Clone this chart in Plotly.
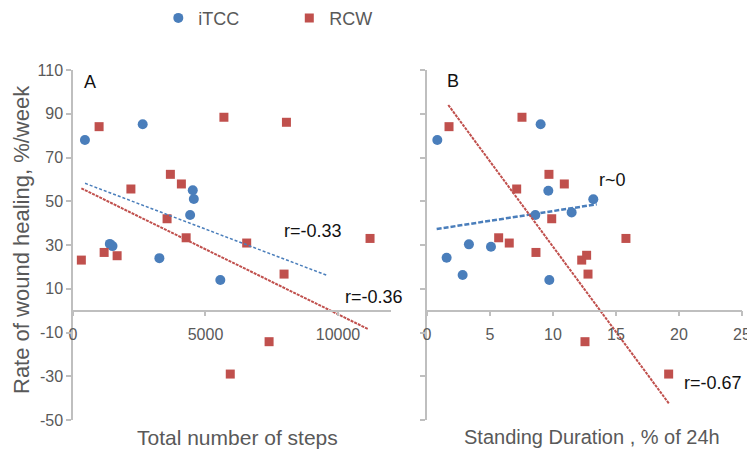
import plotly.graph_objects as go

# ---------------- data ----------------
# Panel A: Total number of steps vs rate of wound healing
a_itcc_steps = [450, 1390, 1490, 2630, 3260, 4420, 4520, 4560, 5560]
a_itcc_rate = [78.0, 30.5, 29.5, 85.2, 24.0, 43.7, 55.0, 51.0, 14.0]
a_rcw_steps = [315, 985, 1175, 1665, 2185, 3550, 3675, 4090, 4270, 5695,
               5935, 6555, 7400, 7965, 8055, 11210]
a_rcw_rate = [23.1, 84.1, 26.6, 25.1, 55.6, 42.0, 62.3, 57.9, 33.3, 88.4,
              -29.0, 30.9, -14.2, 16.7, 86.1, 33.0]

# Panel B: Standing duration (% of 24h) vs rate of wound healing
b_itcc_stand = [0.82, 1.56, 2.83, 3.33, 5.08, 8.6, 9.02, 9.63, 9.71, 11.48, 13.2]
b_itcc_rate = [78.0, 24.2, 16.3, 30.3, 29.2, 43.7, 85.2, 54.8, 14.0, 44.9, 50.9]
b_rcw_stand = [1.75, 5.69, 6.53, 7.12, 7.54, 8.65, 9.68, 9.9, 10.9, 12.28,
               12.54, 12.67, 12.78, 15.79, 19.18]
b_rcw_rate = [84.1, 33.3, 30.9, 55.6, 88.4, 26.6, 62.3, 42.0, 57.9, 23.1,
              -14.2, 25.3, 16.7, 33.0, -29.0]

# trend lines (end points)
trend_a_itcc_x = [455, 9570]
trend_a_itcc_y = [58.2, 16.2]
trend_a_rcw_x = [315, 11150]
trend_a_rcw_y = [55.9, -8.5]
trend_b_itcc_x = [0.77, 13.47]
trend_b_itcc_y = [37.3, 48.6]
trend_b_rcw_x = [1.69, 19.23]
trend_b_rcw_y = [94.0, -42.7]

series_names = ["iTCC", "RCW"]
y_ticks = [-50, -30, -10, 10, 30, 50, 70, 90, 110]
y_tick_labels = ["-50", "-30", "-10", "10", "30", "50", "70", "90", "110"]
xa_ticks = [0, 5000, 10000]
xa_tick_labels = ["0", "5000", "10000"]
xb_ticks = [0, 5, 10, 15, 20, 25]
xb_tick_labels = ["0", "5", "10", "15", "20", "25"]

y_title = "Rate of wound healing, %/week"
xa_title = "Total number of steps"
xb_title = "Standing Duration , % of 24h"
r_labels = ["r=-0.33", "r=-0.36", "r~0", "r=-0.67"]
panel_labels = ["A", "B"]

# ---------------- style ----------------
BLUE = "#4A7EBB"
RED = "#C0504D"
AXIS = "#BFBFBF"
TICKC = "#595959"
FONT = "Liberation Sans, Arial, sans-serif"

fig = go.Figure()

fig.add_trace(go.Scatter(x=a_itcc_steps, y=a_itcc_rate, mode="markers", name=series_names[0],
                         legendgroup="i", marker=dict(symbol="circle", size=10, color=BLUE),
                         xaxis="x", yaxis="y"))
fig.add_trace(go.Scatter(x=a_rcw_steps, y=a_rcw_rate, mode="markers", name=series_names[1],
                         legendgroup="r", marker=dict(symbol="square", size=9, color=RED),
                         xaxis="x", yaxis="y"))
fig.add_trace(go.Scatter(x=trend_a_itcc_x, y=trend_a_itcc_y, mode="lines", showlegend=False,
                         line=dict(color=BLUE, width=1.5, dash="3px,2px"), xaxis="x", yaxis="y"))
fig.add_trace(go.Scatter(x=trend_a_rcw_x, y=trend_a_rcw_y, mode="lines", showlegend=False,
                         line=dict(color=RED, width=2, dash="3px,1px"), xaxis="x", yaxis="y"))

fig.add_trace(go.Scatter(x=b_itcc_stand, y=b_itcc_rate, mode="markers", name=series_names[0],
                         legendgroup="i", showlegend=False,
                         marker=dict(symbol="circle", size=10, color=BLUE),
                         xaxis="x2", yaxis="y2"))
fig.add_trace(go.Scatter(x=b_rcw_stand, y=b_rcw_rate, mode="markers", name=series_names[1],
                         legendgroup="r", showlegend=False,
                         marker=dict(symbol="square", size=9, color=RED),
                         xaxis="x2", yaxis="y2"))
fig.add_trace(go.Scatter(x=trend_b_itcc_x, y=trend_b_itcc_y, mode="lines", showlegend=False,
                         line=dict(color=BLUE, width=2.5, dash="5px,2px"), xaxis="x2", yaxis="y2"))
fig.add_trace(go.Scatter(x=trend_b_rcw_x, y=trend_b_rcw_y, mode="lines", showlegend=False,
                         line=dict(color=RED, width=2, dash="3px,1px"), xaxis="x2", yaxis="y2"))

zero_pos = (0 - (-50)) / (110 - (-50))

common_x = dict(showline=True, linecolor=AXIS, linewidth=1.5, ticks="outside", ticklen=5,
                tickcolor=AXIS, tickwidth=1.5, showgrid=False, zeroline=False,
                anchor="free", position=zero_pos,
                tickfont=dict(family=FONT, size=16, color=TICKC), ticklabelstandoff=4)
common_y = dict(showline=True, linecolor=AXIS, linewidth=1.5, ticks="outside", ticklen=5,
                tickcolor=AXIS, tickwidth=1.5, showgrid=False, zeroline=False,
                range=[-50, 110], tickvals=y_ticks, ticktext=y_tick_labels,
                tickfont=dict(family=FONT, size=16, color=TICKC))

fig.update_layout(
    width=755, height=460,
    margin=dict(l=65, r=21, t=62, b=48, autoexpand=False),
    paper_bgcolor="white", plot_bgcolor="white",
    font=dict(family=FONT, color=TICKC),
    xaxis=dict(domain=[0, 0.4753], range=[0, 12000], tickvals=xa_ticks,
               ticktext=xa_tick_labels, **common_x),
    yaxis=dict(domain=[0, 1], anchor="x", **common_y),
    xaxis2=dict(domain=[0.5291, 1], range=[0, 25], tickvals=xb_ticks,
                ticktext=xb_tick_labels, **common_x),
    yaxis2=dict(domain=[0, 1], anchor="x2", showticklabels=False, **common_y),
    showlegend=True,
    legend=dict(orientation="h", x=0.1275, xanchor="left", y=1.148, yanchor="middle",
                font=dict(family=FONT, size=18, color=TICKC),
                itemwidth=30, entrywidth=86, entrywidthmode="pixels",
                bgcolor="rgba(0,0,0,0)"),
)

ann_font = dict(family=FONT, size=18, color="#111111")
annotations = [
    dict(text=panel_labels[0], x=644, y=104.5, xref="x", yref="y", showarrow=False, font=ann_font),
    dict(text=panel_labels[1], x=2.06, y=104.9, xref="x2", yref="y2", showarrow=False, font=ann_font),
    dict(text=r_labels[0], x=9042, y=36.5, xref="x", yref="y", showarrow=False, font=ann_font),
    dict(text=r_labels[1], x=11376, y=6.4, xref="x", yref="y", showarrow=False, font=ann_font),
    dict(text=r_labels[2], x=14.71, y=59.7, xref="x2", yref="y2", showarrow=False, font=ann_font),
    dict(text=r_labels[3], x=22.71, y=-33.2, xref="x2", yref="y2", showarrow=False, font=ann_font),
    dict(text=y_title, x=-0.0778, y=0.517, xref="paper", yref="paper", textangle=-90,
         showarrow=False, xanchor="center", yanchor="middle",
         font=dict(family=FONT, size=22, color=TICKC)),
    dict(text=xa_title, x=0.246, y=-0.0486, xref="paper", yref="paper", showarrow=False,
         xanchor="center", yanchor="middle", font=dict(family=FONT, size=21, color=TICKC)),
    dict(text=xb_title, x=0.776, y=-0.0486, xref="paper", yref="paper", showarrow=False,
         xanchor="center", yanchor="middle", font=dict(family=FONT, size=20, color=TICKC)),
]
fig.update_layout(annotations=annotations)

fig.write_html("out.html")
